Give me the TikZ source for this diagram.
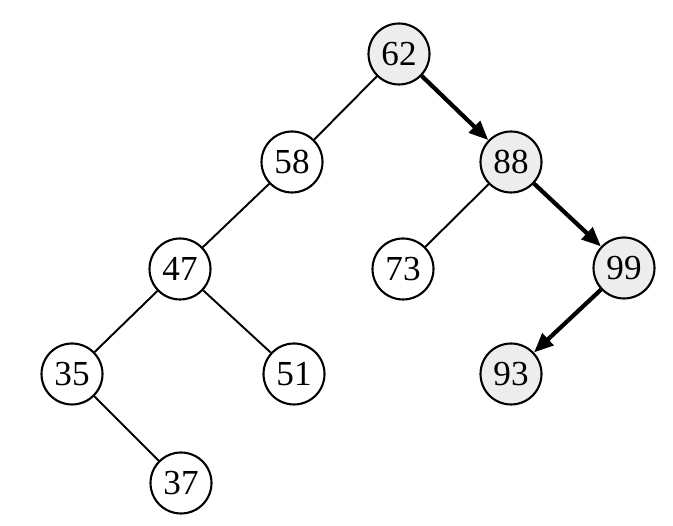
\documentclass[tikz,border=0pt]{standalone}
\usepackage{fontspec}
\setmainfont{Liberation Serif}
\usetikzlibrary{arrows.meta}
\definecolor{nodegray}{HTML}{EDEDED}
\begin{document}
\begin{tikzpicture}[x=0.02cm,y=-0.02cm,
  treenode/.style={circle,draw,line width=1.2pt,minimum size=1.22cm,inner sep=0pt,font=\fontsize{20}{20}\selectfont,fill=white},
  visited/.style={treenode,fill=nodegray},
  edge/.style={line width=1.1pt},
  pathedge/.style={line width=2.4pt,-{Triangle[length=11pt,width=9pt]}}]
\useasboundingbox (0,0) rectangle (673,526);
\node[visited]  (n62) at (399,54)  {62};
\node[treenode] (n58) at (292,162) {58};
\node[visited]  (n88) at (511,162) {88};
\node[treenode] (n47) at (180,269) {47};
\node[treenode] (n73) at (403,269) {73};
\node[visited]  (n99) at (624,268) {99};
\node[treenode] (n35) at (72,374)  {35};
\node[treenode] (n51) at (294,374) {51};
\node[visited]  (n93) at (511,374) {93};
\node[treenode] (n37) at (181,483) {37};
\draw[edge] (n62) -- (n58);
\draw[edge] (n58) -- (n47);
\draw[edge] (n47) -- (n35);
\draw[edge] (n47) -- (n51);
\draw[edge] (n35) -- (n37);
\draw[edge] (n88) -- (n73);
\draw[pathedge] (n62) -- (n88);
\draw[pathedge] (n88) -- (n99);
\draw[pathedge] (n99) -- (n93);
\end{tikzpicture}
\end{document}
